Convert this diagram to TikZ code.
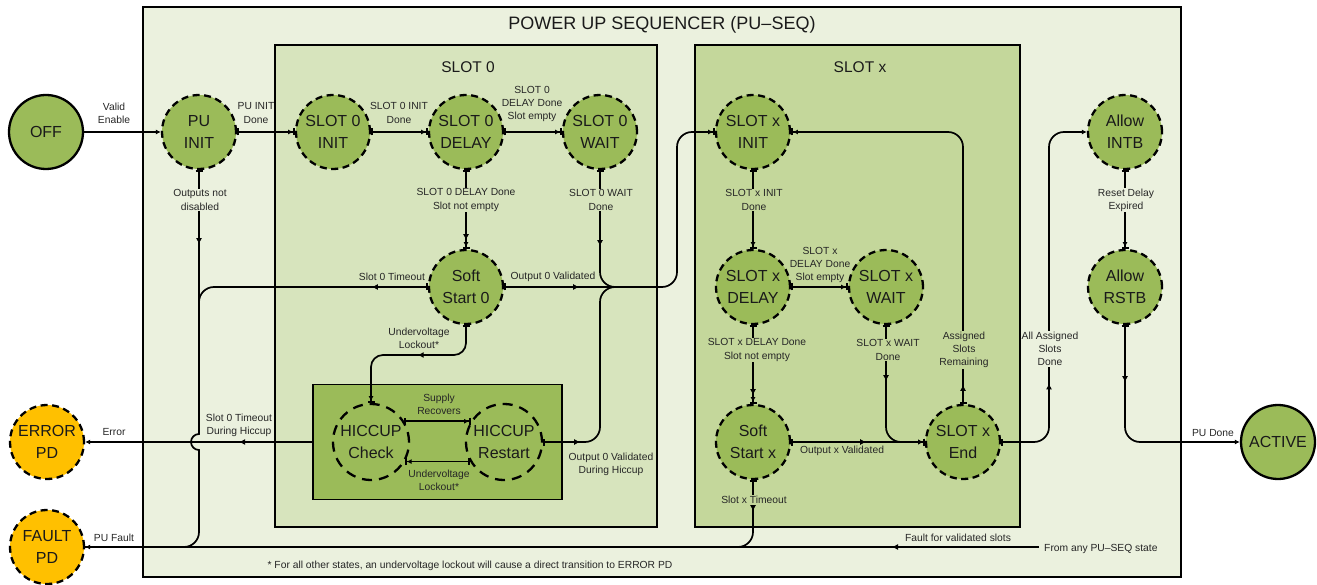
\documentclass[tikz,border=0pt]{standalone}
\usepackage{fontspec}
\setmainfont{Liberation Sans}
\usetikzlibrary{arrows.meta,decorations.markings}
\definecolor{bgout}{HTML}{EBF1DE}
\definecolor{bgslotzero}{HTML}{D7E4BD}
\definecolor{bgslotx}{HTML}{C4D79B}
\definecolor{nodegreen}{HTML}{9BBB59}
\definecolor{nodeorange}{HTML}{FFC000}
\definecolor{txt}{HTML}{1A1A1A}
\definecolor{lbltxt}{HTML}{262626}
\begin{document}
\begin{tikzpicture}[x=1pt,y=-1pt,
  state/.style={circle, minimum size=74pt, inner sep=0pt, fill=nodegreen, draw=black, line width=2.3pt, dash pattern=on 7pt off 4.5pt, align=center, font=\fontsize{16}{22}\selectfont, text=txt},
  solidstate/.style={state, solid},
  errstate/.style={state, fill=nodeorange},
  hic/.style={circle, minimum size=76pt, inner sep=0pt, draw=black, line width=2.3pt, dash pattern=on 10pt off 7pt, align=center, font=\fontsize{16}{22}\selectfont, text=txt},
  lbl/.style={font=\fontsize{10.3}{13.3}\selectfont, align=center, inner sep=1pt, text=lbltxt},
  boxtitle/.style={font=\fontsize{15.5}{18}\selectfont, text=txt},
  conn/.style={line width=1.7pt, {Bar[width=7pt]}-{Latex[length=5pt,width=5pt]Bar[width=7pt]}},
  connA/.style={line width=1.7pt, -{Latex[length=5pt,width=5pt]}},
  connBA/.style={line width=1.7pt, {Bar[width=7pt]}-{Latex[length=5pt,width=5pt]}},
  connB/.style={line width=1.7pt, {Bar[width=7pt]}-},
  plain/.style={line width=1.7pt},
  midarr/.style={postaction={decorate, decoration={markings, mark=at position #1 with {\arrow[line width=1pt]{Latex[length=6pt,width=6pt]}}}}},
]
\useasboundingbox (0,0) rectangle (1317,585);
% boxes
\draw[fill=bgout, line width=1.8pt] (143,7) rectangle (1181,577);
\draw[fill=bgslotzero, line width=1.8pt] (275,45) rectangle (657,527);
\draw[fill=bgslotx, line width=1.8pt] (695,45) rectangle (1020,527);
\node[font=\fontsize{18}{20}\selectfont, text=txt] (title) at (662,25) {POWER UP SEQUENCER (PU--SEQ)};
\node[boxtitle] (tzero) at (468,67) {SLOT 0};
\node[boxtitle] (tx) at (860,67) {SLOT x};
\node[draw, fill=nodegreen, line width=1.8pt, minimum width=249pt, minimum height=115pt, inner sep=0pt] (hbox) at (437.5,442) {};

% states
\node[solidstate] (off) at (46,132) {OFF};
\node[state] (puinit) at (199,132) {PU\\INIT};
\node[state] (szinit) at (333,132) {SLOT 0\\INIT};
\node[state] (szdelay) at (466,132) {SLOT 0\\DELAY};
\node[state] (szwait) at (600,132) {SLOT 0\\WAIT};
\node[state] (sszero) at (466,287) {Soft\\Start 0};
\node[state] (sxinit) at (753,132) {SLOT x\\INIT};
\node[state] (sxdelay) at (753,287) {SLOT x\\DELAY};
\node[state] (sxwait) at (886,287) {SLOT x\\WAIT};
\node[state] (ssx) at (753,442) {Soft\\Start x};
\node[state] (sxend) at (963,442) {SLOT x\\End};
\node[state] (intb) at (1125,132) {Allow\\INTB};
\node[state] (rstb) at (1125,287) {Allow\\RSTB};
\node[solidstate] (active) at (1278,442) {ACTIVE};
\node[errstate] (error) at (47,442) {ERROR\\PD};
\node[errstate] (fault) at (47,547) {FAULT\\PD};
\node[hic] (hcheck) at (371,442) {HICCUP\\Check};
\node[hic] (hrestart) at (504,442) {HICCUP\\Restart};

\coordinate (merge) at (617,287);
\coordinate (anyfrom) at (1039,547);

% connectors top row
\draw[connA] (off) -- (puinit);
\draw[conn] (puinit) -- (szinit);
\draw[conn] (szinit) -- (szdelay);
\draw[conn] (szdelay) -- (szwait);
\draw[conn, midarr=70pt] (szdelay) -- (sszero);
% PU INIT down to fault
\draw[plain, midarr=74pt] (puinit.south) -- (199,434) arc[start angle=270, end angle=90, radius=8] [rounded corners=15pt] -- (199,547) -- (fault.east);
\draw[connB] (puinit.south) -- (199,180);
% slot 0 timeout
\draw[connB, midarr=56pt, rounded corners=15pt] (sszero.west) -- (199,287) -- (199,330);
% fault main line
\draw[connA, midarr=147pt] (anyfrom) -- (fault.east);
% slot x timeout
\draw[connB, midarr=31pt, rounded corners=15pt] (ssx.south) -- (753,547) -- (700,547);
% error
\draw[connA, midarr=73pt] (hbox.west) -- (error.east);
% slot 0 wait, soft start 0, hiccup restart merge
\draw[connB, midarr=76pt, rounded corners=15pt] (szwait.south) -- (600,287) -- (merge);
\draw[connB, midarr=75pt] (sszero.east) -- (merge);
\draw[connB, midarr=37pt, rounded corners=15pt] (hrestart.east) -- (600,442) -- (600,287) -- (merge);
\draw[line width=1.7pt, -{Latex[length=5pt,width=5pt]Bar[width=7pt]}, rounded corners=15pt] (merge) -- (677,287) -- (677,132) -- (sxinit.west);
% soft start 0 to hiccup check
\draw[conn, midarr=73pt, rounded corners=12pt] (sszero.south) -- (466,355) -- (371,355) -- (hcheck.north);
% hiccup internal
\draw[conn] (hcheck.32) -- (hrestart.148);
\draw[conn] (hrestart.210) -- (hcheck.330);
% slot x
\draw[conn] (sxinit) -- (sxdelay);
\draw[conn] (sxdelay) -- (sxwait);
\draw[conn, midarr=70pt] (sxdelay) -- (ssx);
\draw[conn, midarr=56pt, rounded corners=15pt] (sxwait.south) -- (886,442) -- (sxend.west);
\draw[conn, midarr=75pt] (ssx) -- (sxend);
\draw[conn, midarr=19pt, rounded corners=15pt] (sxend.north) -- (963,132) -- (sxinit.east);
\draw[connBA, midarr=100pt, rounded corners=15pt] (sxend.east) -- (1049,442) -- (1049,132) -- (intb.west);
\draw[conn] (intb) -- (rstb);
\draw[connBA, midarr=57pt, rounded corners=15pt] (rstb.south) -- (1125,442) -- (active.west);

% labels
\node[lbl] (lvalid) at (114,113) {Valid\\Enable};
\node[lbl] (lpudone) at (256,113) {PU INIT\\Done};
\node[lbl, fill=bgout] (lout) at (200,200) {Outputs not\\disabled};
\node[lbl] (lszinit) at (399,113) {SLOT 0 INIT\\Done};
\node[lbl] (lszempty) at (532,104) {SLOT 0\\DELAY Done\\Slot empty};
\node[lbl, fill=bgslotzero] (lsznot) at (466,200) {SLOT 0 DELAY Done\\Slot not empty};
\node[lbl, fill=bgslotzero] (lszwait) at (601,200) {SLOT 0 WAIT\\Done};
\node[lbl] (lszto) at (392,277) {Slot 0 Timeout};
\node[lbl] (lszval) at (553,277) {Output 0 Validated};
\node[lbl] (luvlo) at (419,338) {Undervoltage\\Lockout*};
\node[lbl] (lsupply) at (439,404) {Supply\\Recovers};
\node[lbl] (luvlotwo) at (439,480) {Undervoltage\\Lockout*};
\node[lbl] (lvalhic) at (611,464) {Output 0 Validated\\During Hiccup};
\node[lbl] (ltohic) at (239,425) {Slot 0 Timeout\\During Hiccup};
\node[lbl] (lerror) at (114,432) {Error};
\node[lbl] (lpufault) at (114,538) {PU Fault};
\node[lbl, fill=bgslotx] (lsxinit) at (754,200) {SLOT x INIT\\Done};
\node[lbl] (lsxempty) at (820,265) {SLOT x\\DELAY Done\\Slot empty};
\node[lbl, fill=bgslotx] (lsxnot) at (757,350) {SLOT x DELAY Done\\Slot not empty};
\node[lbl, fill=bgslotx] (lsxwait) at (888,350) {SLOT x WAIT\\Done};
\node[lbl, fill=bgslotx] (lremain) at (964,350) {Assigned\\Slots\\Remaining};
\node[lbl] (lsxval) at (842,451) {Output x Validated};
\node[lbl, fill=bgslotx] (lsxto) at (754,500) {Slot x Timeout};
\node[lbl, fill=bgout] (lalldone) at (1050,349) {All Assigned\\Slots\\Done};
\node[lbl, fill=bgout] (lreset) at (1126,200) {Reset Delay\\Expired};
\node[lbl] (lpu) at (1213,433) {PU Done};
\node[lbl] (lfaultval) at (958,538) {Fault for validated slots};
\node[lbl, anchor=west] (lany) at (1043,549) {From any PU--SEQ state};
\node[lbl] (lfoot) at (470,566) {* For all other states, an undervoltage lockout will cause a direct transition to ERROR PD};
\end{tikzpicture}
\end{document}
